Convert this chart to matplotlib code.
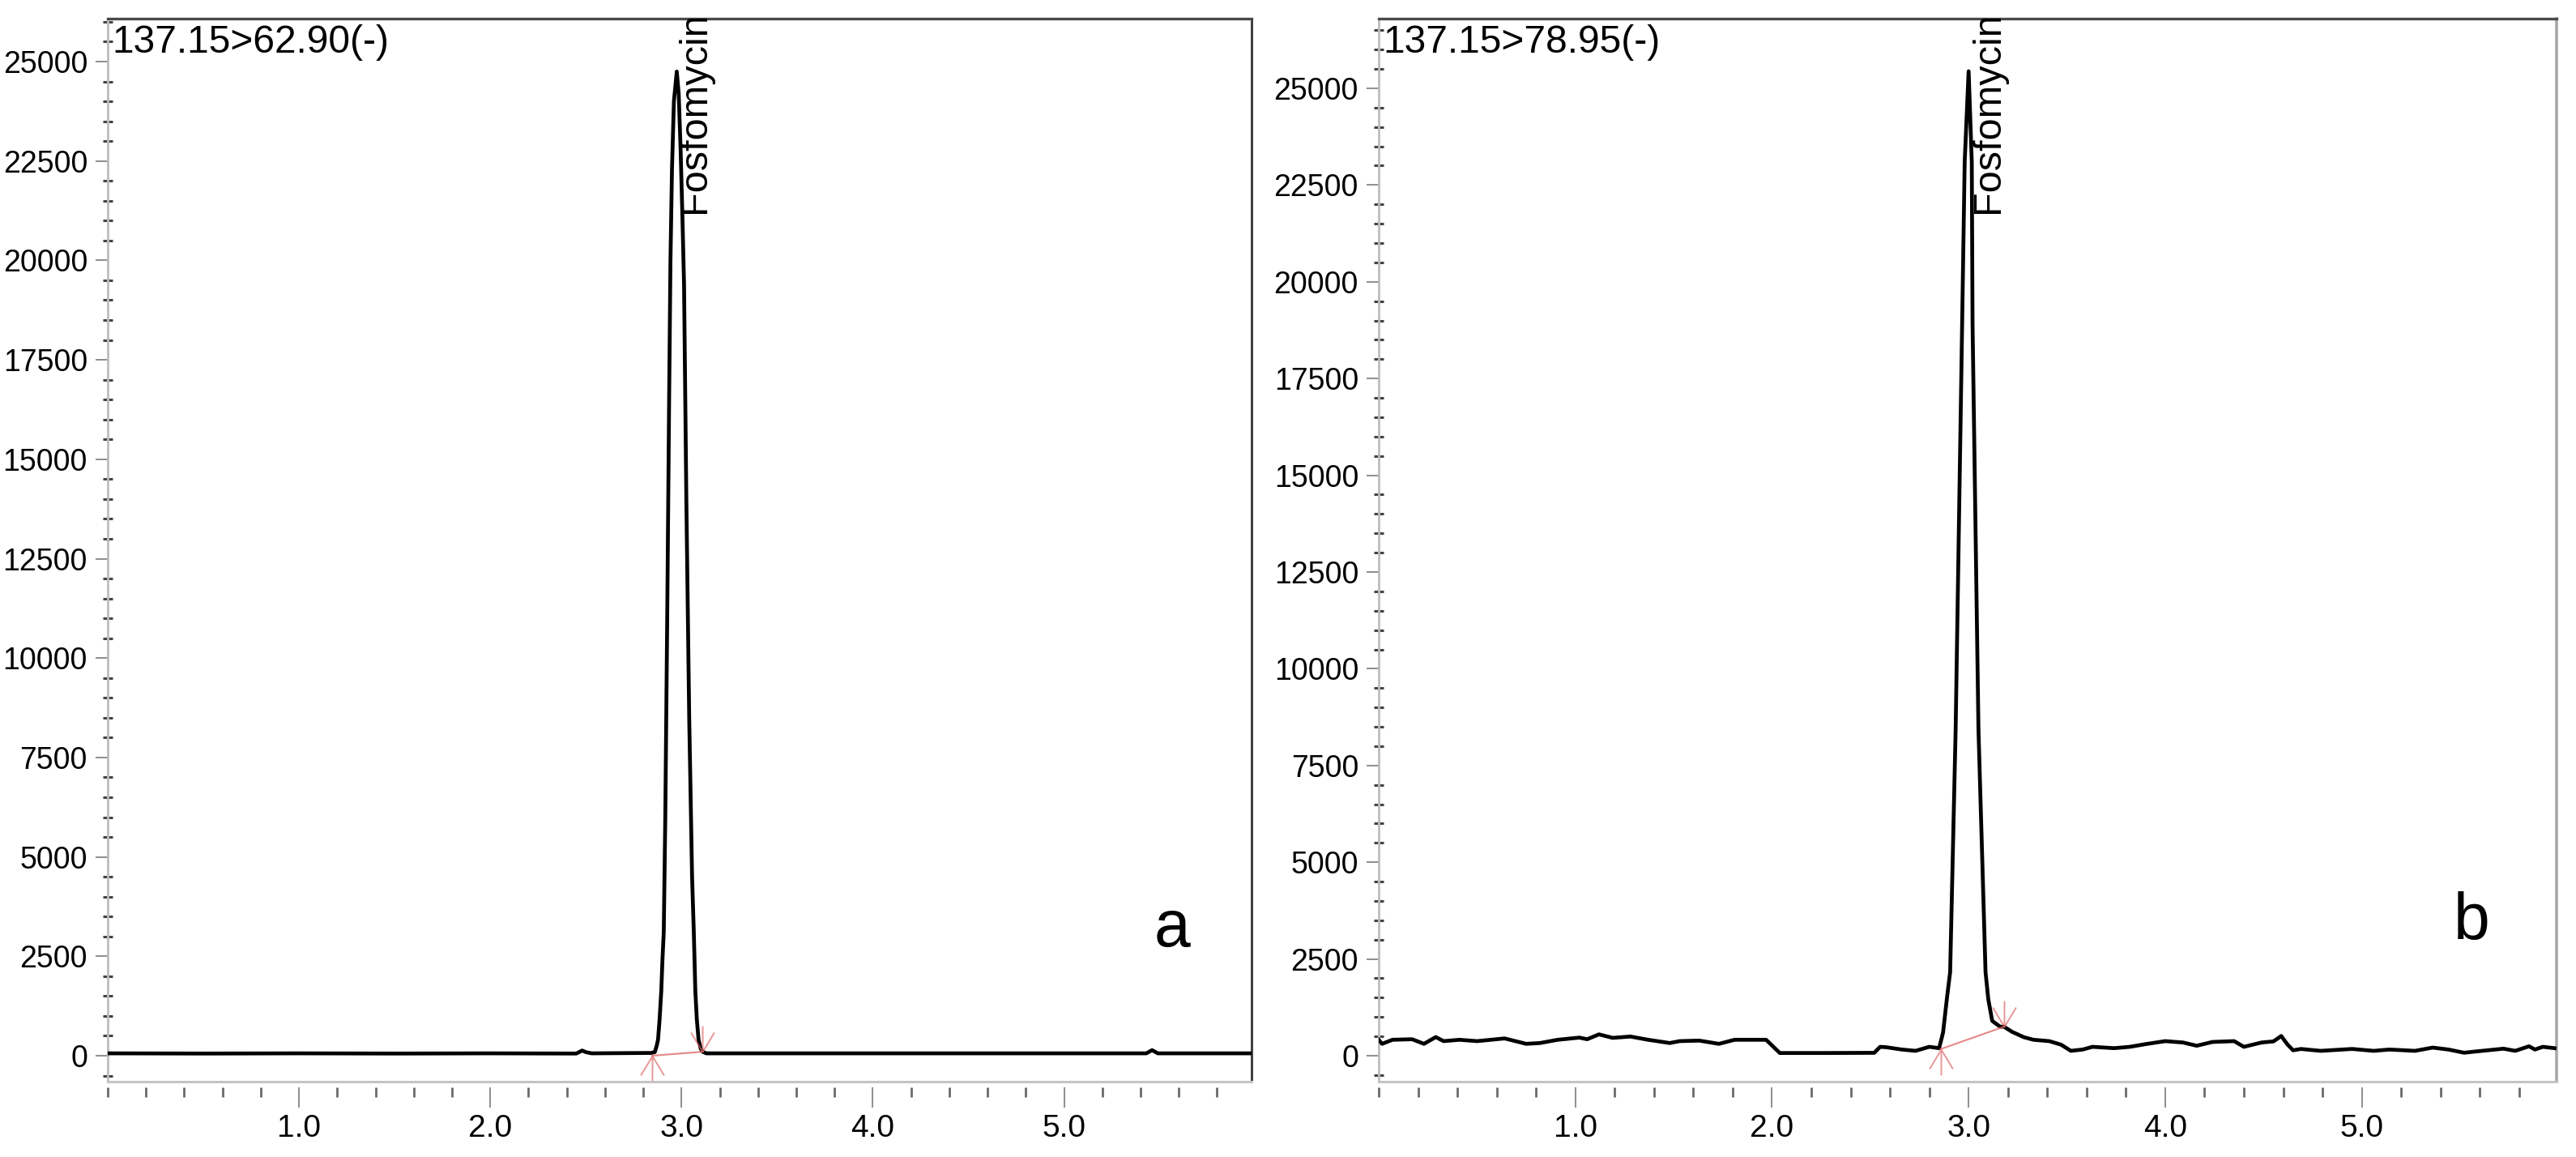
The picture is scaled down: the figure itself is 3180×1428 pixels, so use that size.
import numpy as np
import matplotlib
matplotlib.use("Agg")
import matplotlib.pyplot as plt
from matplotlib import font_manager
from matplotlib.path import Path
from matplotlib.ticker import MultipleLocator, FuncFormatter

# ---------------- data ----------------
time_a = [0.00, 0.50, 1.00, 1.50, 2.00, 2.45, 2.48, 2.50, 2.53, 2.84, 2.86, 2.87, 2.877,
          2.885, 2.894, 2.90, 2.907, 2.915, 2.925, 2.935, 2.942, 2.95, 2.96, 2.975,
          2.985, 2.995, 3.005, 3.013, 3.025, 3.04, 3.055, 3.064, 3.072, 3.08, 3.089,
          3.10, 3.11, 3.13, 3.50, 4.00, 4.50, 5.00, 5.43, 5.46, 5.49, 5.98]
signal_a = [60, 55, 60, 55, 60, 55, 130, 90, 60, 70, 90, 250, 400,
            900, 1630, 2400, 3117, 6000, 11000, 16500, 20000, 22300, 24000, 24750,
            24200, 22800, 21000, 19400, 14000, 8500, 4500, 3117, 1630, 900, 400,
            180, 100, 60, 60, 60, 60, 60, 60, 140, 60, 60]

time_b = [0.00, 0.017, 0.07, 0.17, 0.23, 0.29, 0.33, 0.41, 0.50, 0.64, 0.75, 0.82,
          0.91, 1.02, 1.06, 1.12, 1.19, 1.28, 1.37, 1.48, 1.53, 1.63, 1.73, 1.81,
          1.97, 2.04, 2.27, 2.52, 2.55, 2.58, 2.66, 2.73, 2.80, 2.85,
          2.87, 2.89, 2.906, 2.934, 2.967, 2.98, 3.00, 3.016, 3.02, 3.05, 3.086,
          3.10, 3.12, 3.16, 3.18, 3.22, 3.28, 3.33, 3.41, 3.47, 3.52, 3.58, 3.63,
          3.74, 3.82, 3.90, 4.00, 4.09, 4.16, 4.24, 4.35, 4.40, 4.49, 4.55, 4.59,
          4.62, 4.65, 4.69, 4.79, 4.95, 5.06, 5.14, 5.27, 5.36, 5.44, 5.52, 5.57,
          5.72, 5.78, 5.85, 5.88, 5.92, 5.98]
signal_b = [412, 307, 412, 426, 307, 482, 377, 412, 377, 447, 307, 328,
            412, 468, 426, 552, 461, 496, 412, 328, 377, 391, 307, 412,
            412, 70, 70, 75, 230, 220, 160, 126, 230, 195,
            600, 1500, 2160, 8440, 18900, 23100, 25440, 23100, 18900, 8440, 2160,
            1460, 900, 750, 750, 620, 480, 412, 377, 286, 126, 160, 230,
            195, 230, 300, 377, 342, 258, 356, 377, 230, 342, 370, 510,
            300, 140, 175, 126, 175, 126, 160, 126, 210, 160, 77, 105,
            182, 126, 244, 160, 230, 195]

# integration baseline (start, end) of the Fosfomycin peak
base_a_t = [2.847, 3.11]
base_a_y = [0, 100]
base_b_t = [2.857, 3.18]
base_b_y = [170, 750]

titles = ["137.15>62.90(-)", "137.15>78.95(-)"]
panel_letters = ["a", "b"]
peak_name = "Fosfomycin"
peak_label_pos = [(3.07, 21190), (3.10, 21775)]
letter_pos = [(5.565, 3180), (5.56, 3455)]
ylims = [(-652, 26080), (-670, 26800)]
xlims = [(0.0, 5.98), (0.0, 5.99)]
x_major = [1.0, 2.0, 3.0, 4.0, 5.0]

# ---------------- fonts ----------------
def has_font(name):
    try:
        font_manager.findfont(font_manager.FontProperties(family=name), fallback_to_default=False)
        return True
    except Exception:
        return False

narrow = "Liberation Sans Narrow" if has_font("Liberation Sans Narrow") else None
reg = "Liberation Sans"
tick_family = narrow if narrow else reg
ytick_size = 32 if narrow else 27
xtick_size = 33 if narrow else 28

plt.rcParams["font.family"] = [reg, "DejaVu Sans"]

W, H = 3180, 1428
fig = plt.figure(figsize=(W / 100, H / 100), dpi=100)
fig.patch.set_facecolor("white")

boxes = [
    [133 / W, 1 - 1335 / H, (1545 - 133) / W, (1335 - 23) / H],
    [1702 / W, 1 - 1335 / H, (3156 - 1702) / W, (1335 - 23) / H],
]
datasets = [(time_a, signal_a, base_a_t, base_a_y), (time_b, signal_b, base_b_t, base_b_y)]
right_colors = ["#333333", "#a8a8a8"]

# arrow markers for integration start / end
up_arrow = Path([(0, 0), (0, -1), (-0.45, -0.75), (0, 0), (0.45, -0.75)],
                [Path.MOVETO, Path.LINETO, Path.MOVETO, Path.LINETO, Path.LINETO])
down_arrow = Path([(0, 0), (0, 1), (-0.45, 0.75), (0, 0), (0.45, 0.75)],
                  [Path.MOVETO, Path.LINETO, Path.MOVETO, Path.LINETO, Path.LINETO])

for i in range(2):
    ax = fig.add_axes(boxes[i])
    t, s, bt, by = datasets[i]
    ax.plot(t, s, color="black", lw=3.4, solid_joinstyle="round", zorder=3)
    # integration baseline
    ax.plot(bt, by, color="#e06a6a", lw=1.5, alpha=0.8, zorder=4)
    ax.plot(bt[0], by[0], marker=up_arrow, ms=46, mfc="none", mec="#e06a6a", mew=1.4,
            alpha=0.7, zorder=4, clip_on=False)
    ax.plot(bt[1], by[1], marker=down_arrow, ms=46, mfc="none", mec="#e06a6a", mew=1.4,
            alpha=0.7, zorder=4)

    ax.set_xlim(*xlims[i])
    ax.set_ylim(*ylims[i])

    ax.xaxis.set_major_locator(plt.FixedLocator(x_major))
    ax.xaxis.set_minor_locator(MultipleLocator(0.2))
    ax.xaxis.set_major_formatter(FuncFormatter(lambda v, p: f"{v:.1f}"))
    ax.yaxis.set_major_locator(MultipleLocator(2500))
    ax.yaxis.set_minor_locator(MultipleLocator(500))
    ax.yaxis.set_major_formatter(FuncFormatter(lambda v, p: f"{v:.0f}"))

    ax.tick_params(axis="x", which="major", direction="out", length=18, width=1.2,
                   color="#7a7a7a", pad=6, labelsize=xtick_size)
    ax.tick_params(axis="x", which="minor", direction="out", length=8.5, width=2.0,
                   color="#6a6a6a")
    ax.tick_params(axis="y", which="major", direction="out", length=11, width=1.2,
                   color="#7a7a7a", pad=7, labelsize=ytick_size)
    ax.tick_params(axis="y", which="minor", direction="inout", length=8, width=2.2,
                   color="#444444")
    for lab in ax.get_xticklabels() + ax.get_yticklabels():
        lab.set_fontfamily(tick_family)

    # spines
    ax.spines["bottom"].set_position(("outward", 5))
    ax.spines["bottom"].set_visible(False)
    ax.axhline(ylims[i][0], color="#c4c4c4", lw=2.2, clip_on=False, zorder=5)
    ax.spines["left"].set_color("#bdbdbd")
    ax.spines["left"].set_linewidth(2.0)
    ax.spines["top"].set_color("#4a4a4a")
    ax.spines["top"].set_linewidth(2.4)
    ax.spines["right"].set_color(right_colors[i])
    ax.spines["right"].set_linewidth(2.0 if i == 0 else 2.6)

    ax.text(0.004, 0.995, titles[i], transform=ax.transAxes, ha="left", va="top",
            fontsize=34.5, family=reg, color="black")
    px, py = peak_label_pos[i]
    ax.text(px, py, peak_name, rotation=90, ha="center", va="bottom",
            fontsize=35, family=reg, color="black", clip_on=True)
    lx, ly = letter_pos[i]
    ax.text(lx, ly, panel_letters[i], ha="center", va="center",
            fontsize=58, family=reg, color="black")

fig.savefig("out.png", dpi=100, facecolor="white")
